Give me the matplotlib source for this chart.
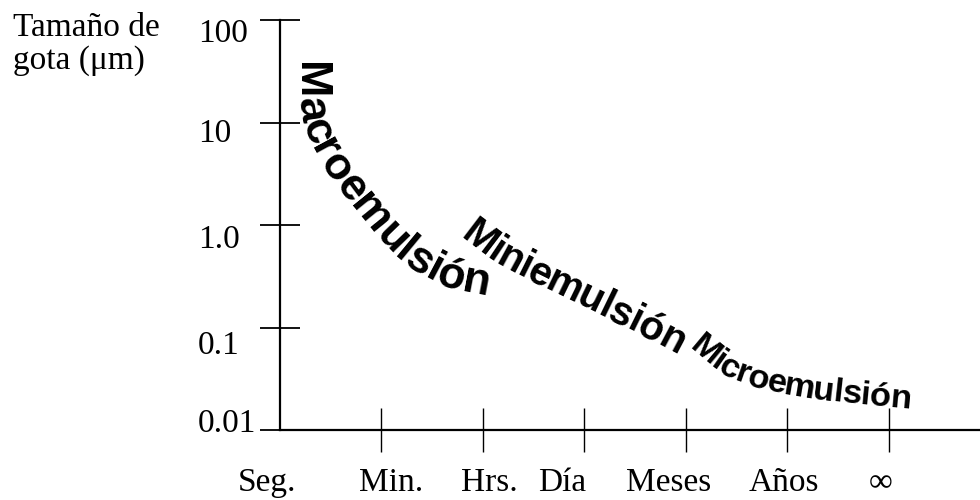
import matplotlib
matplotlib.use('Agg')
import matplotlib.pyplot as plt
import matplotlib.transforms as mtransforms
import numpy as np
from matplotlib.font_manager import FontProperties

# axis values
size_ticks = [0.01, 0.1, 1.0, 10, 100]
size_labels = ['0.01', '0.1', '1.0', '10', '100']
# the scanned labels sit a little below their ticks
size_label_pos = [0.0125, 0.0723, 0.78, 8.45, 79.8]
time_ticks = [1, 2, 3, 4, 5, 6]
time_labels = ['Min.', 'Hrs.', 'Día', 'Meses', 'Años', '∞']
time_label_pos = [1.10, 2.065, 2.78, 3.83, 4.97, 5.92]
origin_label = 'Seg.'
origin_label_pos = -0.128

# baselines of the curved labels (x: time position, y: drop size in um)
macro_x = [0.177, 0.177, 0.265, 0.373, 0.658, 0.845, 1.17, 1.573, 1.868, 2.06]
macro_y = [38.9, 11.8, 6.6, 4.03, 1.68, 0.955, 0.436, 0.248, 0.217, 0.20]
mini_x = [1.77, 2.11, 2.60, 3.19, 3.59, 3.93]
mini_y = [0.76, 0.42, 0.24, 0.125, 0.080, 0.053]
micro_x = [4.03, 4.35, 4.73, 5.192, 5.703, 6.22]
micro_y = [0.0620, 0.0335, 0.0250, 0.0205, 0.0180, 0.0162]

serif = 'Liberation Serif'


def smooth_path(pts, pad=120, win=25):
    seg = np.hypot(*np.diff(pts, axis=0).T)
    t = np.r_[0, np.cumsum(seg)]
    s = np.arange(-pad, t[-1] + pad, 1.0)
    x = np.interp(s, t, pts[:, 0])
    y = np.interp(s, t, pts[:, 1])
    d0 = (pts[1] - pts[0]) / seg[0]
    d1 = (pts[-1] - pts[-2]) / seg[-1]
    lo = s < 0
    hi = s > t[-1]
    x[lo] = pts[0, 0] + s[lo] * d0[0]
    y[lo] = pts[0, 1] + s[lo] * d0[1]
    x[hi] = pts[-1, 0] + (s[hi] - t[-1]) * d1[0]
    y[hi] = pts[-1, 1] + (s[hi] - t[-1]) * d1[1]
    k = np.ones(win) / win
    for _ in range(3):
        x = np.convolve(x, k, mode='same')
        y = np.convolve(y, k, mode='same')
    arc = np.r_[0, np.cumsum(np.hypot(np.diff(x), np.diff(y)))]
    return x, y, arc, arc[pad], arc[pad + int(t[-1]) - 1]


def text_on_curve(ax, word, xs, ys, tracking=1.0):
    fig = ax.figure
    fig.canvas.draw()
    renderer = fig.canvas.get_renderer()

    pts = ax.transData.transform(np.column_stack([xs, ys]))
    px, py, arc, a0, a1 = smooth_path(pts)

    # font size so that the word fills the curve
    fp10 = FontProperties(family='Liberation Sans', weight='bold', size=10)
    w10 = sum(renderer.get_text_width_height_descent(c, fp10, ismath=False)[0]
              for c in word) * tracking
    size = 10 * (a1 - a0) / w10
    fp = FontProperties(family='Liberation Sans', weight='bold', size=size)

    pos = a0
    inv = ax.transData.inverted()
    for ch in word:
        w = renderer.get_text_width_height_descent(ch, fp, ismath=False)[0] * tracking
        a = pos + w / 2
        i = np.searchsorted(arc, a)
        i = min(max(i, 2), len(arc) - 3)
        x = np.interp(a, arc, px)
        y = np.interp(a, arc, py)
        ang = np.degrees(np.arctan2(py[i + 2] - py[i - 2], px[i + 2] - px[i - 2]))
        dx, dy = inv.transform((x, y))
        ax.text(dx, dy, ch, fontproperties=fp, rotation=ang,
                rotation_mode='anchor', ha='center', va='baseline',
                color='black')
        pos += w


fig = plt.figure(figsize=(9.8, 5), dpi=100)
ax = fig.add_axes([0.2857, 0.14, 0.7143, 0.82])

ax.set_yscale('log')
ax.set_ylim(0.01, 100)
ax.set_xlim(0, 6.9)

# tick marks on the major ticks, labels on zero-length minor ticks
ax.set_yticks(size_ticks)
ax.set_yticklabels([])
ax.set_yticks(size_label_pos, minor=True)
ax.set_yticklabels(size_labels, minor=True, fontsize=24, family=serif, ha='left')
ax.set_xticks(time_ticks)
ax.set_xticklabels([])
ax.set_xticks(time_label_pos, minor=True)
ax.set_xticklabels(time_labels, minor=True, fontsize=24, family=serif)

ax.spines['top'].set_visible(False)
ax.spines['right'].set_visible(False)
ax.spines['left'].set_linewidth(1.6)
ax.spines['bottom'].set_linewidth(1.6)
ax.tick_params(axis='y', which='major', direction='inout', length=29, width=1.3)
ax.tick_params(axis='x', which='major', direction='inout', length=32, width=1.0)
ax.tick_params(axis='y', which='minor', length=0, pad=59)
ax.tick_params(axis='x', which='minor', length=0, pad=27)

# origin label
trans = mtransforms.blended_transform_factory(ax.transData, ax.transAxes)
ax.text(origin_label_pos, -0.148, origin_label, transform=trans,
        fontsize=24, family=serif, ha='center', va='baseline')

fig.text(0.013, 0.975, 'Tamaño de\ngota (μm)', fontsize=24, family=serif,
         ha='left', va='top', linespacing=1.1)

text_on_curve(ax, 'Macroemulsión', macro_x, macro_y)
text_on_curve(ax, 'Miniemulsión', mini_x, mini_y, tracking=0.96)
text_on_curve(ax, 'Microemulsión', micro_x, micro_y, tracking=0.96)

fig.savefig('out.png', dpi=100)
